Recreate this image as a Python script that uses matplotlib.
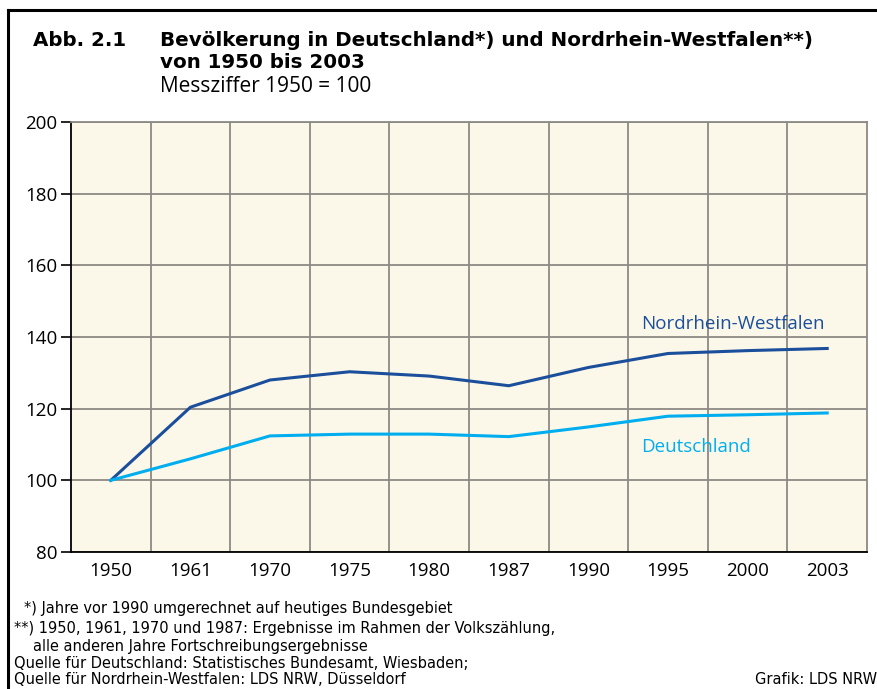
import matplotlib
matplotlib.use("Agg")
import matplotlib.pyplot as plt
from matplotlib.lines import Line2D

years = ["1950", "1961", "1970", "1975", "1980", "1987", "1990", "1995", "2000", "2003"]
nrw = [100, 120.4, 128.0, 130.3, 129.1, 126.4, 131.5, 135.4, 136.2, 136.8]
deutschland = [100, 106.0, 112.4, 112.9, 112.9, 112.2, 114.9, 117.9, 118.3, 118.8]
yticks = [80, 100, 120, 140, 160, 180, 200]

REG = ["Open Sans", "DejaVu Sans"]
BOLD = ["DejaVu Sans"]
NARROW = "DejaVu Sans"
C_NRW = "#1b4f9c"
C_DE = "#00aeef"
GRID = "#8c8a84"

W, H = 877, 689
fig = plt.figure(figsize=(W / 100, H / 100), dpi=100)
fig.patch.set_facecolor("white")

def fx(x):
    return x / W

def fy(y):
    return 1 - y / H

# frame lines (left and top)
fig.add_artist(Line2D([fx(8), fx(8)], [fy(10), 0], color="black", lw=2.2, transform=fig.transFigure))
fig.add_artist(Line2D([fx(8), 1], [fy(10), fy(10)], color="black", lw=2.2, transform=fig.transFigure))

ax = fig.add_axes([fx(71), fy(552), fx(867 - 71), (552 - 122) / H])
ax.set_facecolor("#fcf8e9")

x = list(range(len(years)))
ax.plot(x, nrw, color=C_NRW, lw=2.2, solid_joinstyle="miter", zorder=3)
ax.plot(x, deutschland, color=C_DE, lw=2.2, solid_joinstyle="miter", zorder=3)

ax.set_xlim(-0.5, len(years) - 0.5)
ax.set_ylim(80, 200)
ax.set_xticks(x)
ax.set_xticklabels(years, fontsize=13.5, family=REG)
ax.set_xticks([i + 0.5 for i in range(len(years) - 1)], minor=True)
ax.set_yticks(yticks)
ax.set_yticklabels([str(v) for v in yticks], fontsize=13.5, family=REG)
ax.tick_params(axis="x", which="both", length=0, pad=7)
ax.tick_params(axis="y", which="major", length=7, width=1.2, color="black", pad=3)

ax.grid(True, axis="x", which="minor", color=GRID, lw=1.3)
ax.grid(True, axis="y", which="major", color=GRID, lw=1.3)
ax.set_axisbelow(True)

ax.spines["left"].set_color("black")
ax.spines["bottom"].set_color("black")
ax.spines["left"].set_linewidth(1.3)
ax.spines["bottom"].set_linewidth(1.3)
ax.spines["top"].set_color(GRID)
ax.spines["right"].set_color(GRID)
ax.spines["top"].set_linewidth(1.3)
ax.spines["right"].set_linewidth(1.3)

ax.text(6.66, 143.7, "Nordrhein-Westfalen", color=C_NRW, fontsize=13.5, family=REG,
        ha="left", va="center")
ax.text(6.66, 109.2, "Deutschland", color=C_DE, fontsize=13.5, family=REG,
        ha="left", va="center")

# titles
fig.text(fx(33), fy(40), "Abb. 2.1", fontsize=14.3, fontweight="bold", family=BOLD, va="center")
fig.text(fx(160), fy(40), "Bevölkerung in Deutschland*) und Nordrhein-Westfalen**)",
         fontsize=14.3, fontweight="bold", family=BOLD, va="center")
fig.text(fx(160), fy(62), "von 1950 bis 2003", fontsize=14.3, fontweight="bold", family=BOLD, va="center")
fig.text(fx(160), fy(86), "Messziffer 1950 = 100", fontsize=15, family=REG, va="center")

# footnotes
notes = [
    (24, 609, "*) Jahre vor 1990 umgerechnet auf heutiges Bundesgebiet"),
    (14, 628, "**) 1950, 1961, 1970 und 1987: Ergebnisse im Rahmen der Volkszählung,"),
    (33, 646, "alle anderen Jahre Fortschreibungsergebnisse"),
    (14, 663, "Quelle für Deutschland: Statistisches Bundesamt, Wiesbaden;"),
    (14, 680, "Quelle für Nordrhein-Westfalen: LDS NRW, Düsseldorf"),
]
for xx, yy, t in notes:
    fig.text(fx(xx), fy(yy), t, fontsize=11.7, family=NARROW, fontstretch="condensed",
             va="center", ha="left")
fig.text(fx(877), fy(680), "Grafik: LDS NRW", fontsize=11.7, family=NARROW, fontstretch="condensed",
         va="center", ha="right")

fig.savefig("out.png", dpi=100)
